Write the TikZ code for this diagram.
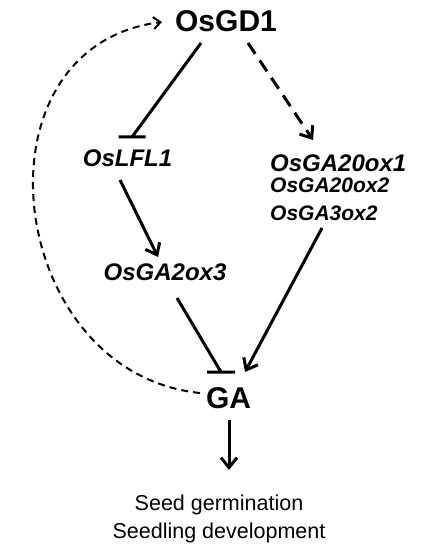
\documentclass[tikz,border=0pt]{standalone}
\usepackage{fontspec}
\setmainfont{Liberation Sans}
\usetikzlibrary{arrows.meta, positioning}
\tikzstyle{big} = [font=\fontsize{30}{30}\selectfont\bfseries, inner sep=0pt]
\tikzstyle{gene} = [font=\fontsize{24}{24}\selectfont\bfseries\itshape, inner sep=0pt]
\tikzstyle{genesm} = [font=\fontsize{21}{21}\selectfont\bfseries\itshape, inner sep=0pt]
\tikzstyle{pheno} = [font=\fontsize{21.5}{28}\selectfont, inner sep=0pt, align=center]
\tikzstyle{arrow} = [line width=3pt, -{Straight Barb[length=10pt,width=16pt]}]
\tikzstyle{darrow} = [line width=3pt, dash pattern=on 13pt off 8pt, -{Straight Barb[length=10pt,width=16pt]}]
\tikzstyle{inhibit} = [line width=3pt]
\tikzstyle{feedback} = [line width=2pt, dash pattern=on 7pt off 5pt, -{Straight Barb[length=7pt,width=12pt]}]

\begin{document}
\begin{tikzpicture}[x=1pt, y=-1pt]
  \useasboundingbox (0,0) rectangle (430,553);

  \node[big, anchor=base] (OsGD1) at (226,31.5) {OsGD1};
  \node[gene, anchor=base] (OsLFL1) at (127.5,167) {OsLFL1};
  \node[gene, anchor=base west] (OsGA20ox1) at (270,172) {OsGA20ox1};
  \node[genesm, anchor=base west] (OsGA20ox2) at (270,193) {OsGA20ox2};
  \node[genesm, anchor=base west] (OsGA3ox2) at (270,220) {OsGA3ox2};
  \node[gene, anchor=base] (OsGA2ox3) at (165,280) {OsGA2ox3};
  \node[big, anchor=base] (GA) at (228.5,408) {GA};
  \node[pheno, anchor=base] (pheno) at (219,538) {Seed germination\\Seedling development};

  % repression ends in a flat bar
  \draw[inhibit] ([shift={(-25,11.5)}]OsGD1.base) -- ([shift={(4.5,-30)}]OsLFL1.base) ++(-13.5,0) -- ++(27,0);
  \draw[inhibit] ([shift={(12,18)}]OsGA2ox3.base) -- ([shift={(-7.5,-36)}]GA.base) ++(-14,0) -- ++(28,0);

  \draw[darrow] ([shift={(22,11.5)}]OsGD1.base) -- ([shift={(43,-32)}]OsGA20ox1.base west);
  \draw[arrow] ([shift={(-7.5,13)}]OsLFL1.base) -- ([shift={(-7,-23)}]OsGA2ox3.base);
  \draw[arrow] ([shift={(52,8)}]OsGA3ox2.base west) -- ([shift={(16.5,-36)}]GA.base);
  \draw[arrow] ([shift={(0.5,12)}]GA.base) -- ([shift={(10,-68)}]pheno.base);

  % feedback
  \draw[feedback] ([shift={(-28.5,-15)}]GA.base) .. controls +(-195,-20) and +(-195,25) .. ([shift={(-64,-9.5)}]OsGD1.base);

\end{tikzpicture}
\end{document}
